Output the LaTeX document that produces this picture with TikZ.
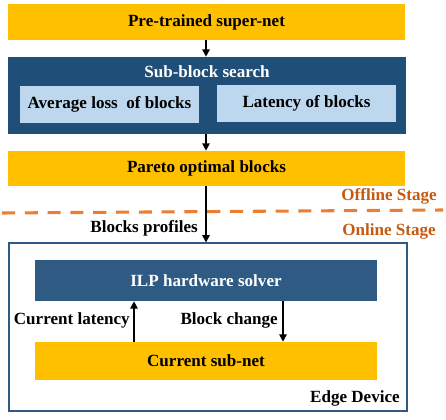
\documentclass[tikz,border=0pt]{standalone}
\usepackage{fontspec}
\setmainfont{Liberation Serif}
\usetikzlibrary{arrows.meta}
\definecolor{ybox}{HTML}{FFC000}
\definecolor{dblue}{HTML}{1F4E79}
\definecolor{mblue}{HTML}{2E5A83}
\definecolor{lblue}{HTML}{BDD7EE}
\definecolor{odash}{HTML}{ED7D31}
\definecolor{otext}{HTML}{C55A11}
\tikzset{
  box/.style={rectangle, inner sep=0pt, font=\fontsize{12.8}{14}\selectfont\bfseries},
  ybx/.style={box, fill=ybox},
  arr/.style={-{Triangle[length=5.5pt,width=5.5pt]}, line width=1.1pt, black},
  lbl/.style={inner sep=0pt, font=\fontsize{12.8}{14}\selectfont\bfseries},
}
\begin{document}
\begin{tikzpicture}[x=0.75pt,y=-0.75pt]
\useasboundingbox (0,0) rectangle (446,420);
\node[ybx, minimum width=397*0.75pt, minimum height=36*0.75pt] (pre) at (206.5,22) {Pre-trained super-net};
\node[box, fill=dblue, minimum width=398*0.75pt, minimum height=77*0.75pt] (sub) at (207,95.5) {};
\node[lbl, text=white] (subt) at (207,72) {Sub-block search};
\node[box, fill=lblue, minimum width=179*0.75pt, minimum height=37*0.75pt] (avg) at (109.5,104.5) {Average loss\ \ of blocks};
\node[box, fill=lblue, minimum width=179*0.75pt, minimum height=37*0.75pt] (lat) at (306.5,103.5) {Latency of blocks};
\node[ybx, minimum width=397*0.75pt, minimum height=35*0.75pt] (par) at (206.5,168.5) {Pareto optimal blocks};
\node[box, draw=mblue, line width=1.5pt, minimum width=398*0.75pt, minimum height=167*0.75pt] (edge) at (207.5,327) {};
\node[box, fill=mblue, text=white, minimum width=342*0.75pt, minimum height=41*0.75pt] (ilp) at (206,280.5) {ILP hardware solver};
\node[ybx, minimum width=342*0.75pt, minimum height=38*0.75pt] (cur) at (206,361) {Current sub-net};
\coordinate (ax) at (206,0);
\coordinate (ux) at (134,0);
\coordinate (dx) at (283,0);
\coordinate (dl) at (2,213);
\coordinate (dr) at (443,210);
\draw[odash, line width=2.3pt, dash pattern=on 9.8pt off 7.3pt] (dl) -- (dr);
\draw[arr] (pre.south -| ax) -- (sub.north -| ax);
\draw[arr] (sub.south -| ax) -- (par.north -| ax);
\draw[arr] (par.south -| ax) -- (edge.north -| ax);
\draw[arr] (cur.north -| ux) -- (ilp.south -| ux);
\draw[arr] (ilp.south -| dx) -- (cur.north -| dx);
\node[lbl, anchor=east] (bp) at (198,228) {Blocks profiles};
\node[lbl, anchor=east] (cl) at (130,320) {Current latency};
\node[lbl, anchor=east] (bc) at (278,320) {Block change};
\node[lbl, anchor=east, text=otext] (off) at (437,196) {Offline Stage};
\node[lbl, anchor=east, text=otext] (on) at (436,231) {Online Stage};
\node[lbl, anchor=east] (ed) at (400,398) {Edge Device};
\end{tikzpicture}
\end{document}
